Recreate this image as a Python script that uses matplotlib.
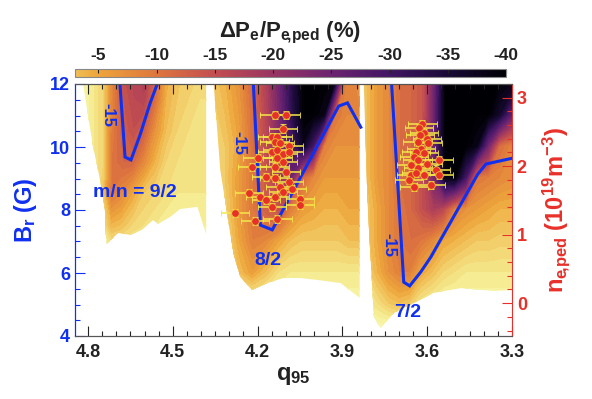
import numpy as np
import matplotlib
matplotlib.use('Agg')
import matplotlib.pyplot as plt
from matplotlib.colors import LinearSegmentedColormap, Normalize
from matplotlib.patches import Polygon
from matplotlib.ticker import MultipleLocator, FormatStrFormatter
import matplotlib.cm as cm

plt.rcParams['font.family'] = ['Liberation Sans', 'DejaVu Sans']
plt.rcParams['font.weight'] = 'bold'
plt.rcParams['axes.labelweight'] = 'bold'
plt.rcParams['axes.unicode_minus'] = False
plt.rcParams['mathtext.fontset'] = 'custom'
plt.rcParams['mathtext.rm'] = 'Liberation Sans:bold'
plt.rcParams['mathtext.it'] = 'Liberation Sans:bold'
plt.rcParams['mathtext.bf'] = 'Liberation Sans:bold'

# ---------------- colour scale anchors ----------------
cmap_vals = [-40, -35, -30, -25, -20, -15, -10, -5, -3, 0, 2, 5]
cmap_cols = ['#000004', '#190a37', '#421664', '#6c2370', '#983462', '#c34e50',
             '#de763e', '#eea53c', '#f0be55', '#f3de7d', '#f6f09b', '#fafab9']
cbar_ticks = [-5, -10, -15, -20, -25, -30, -35, -40]

# ---------------- region m/n = 9/2 ----------------
qA = [4.86, 4.80, 4.75, 4.72, 4.68, 4.64, 4.60, 4.56, 4.52, 4.48, 4.44, 4.40, 4.36]
brA = [6.5, 7.5, 8.5, 9.5, 10.5, 11.5, 12.5]
dpA = [
    [4, 4, 3, 3, 3, 3, 3, 3, 3, 3, 3, 3, 3],
    [4, 3, 0, -4, -3, -1, 0, 1, 2, 2, 2, 2, 2],
    [4, 2, -2, -10, -8, -5, -2, -1, 0, 1, 1, 1, 1],
    [4, 2, -1, -10, -12, -12, -8, -4, -1, 0, 1, 1, 1],
    [4, 2, -1, -9, -13, -15, -13, -7, -3, -1, 0, 0.5, 0.5],
    [4, 2, -1, -8, -14, -16, -17, -11, -4, -2, -1, 0, 0],
    [4, 2, -1, -8, -15, -17, -19, -13, -5, -2.5, -1.5, -1, -1],
]
edgeA_q = [4.821, 4.782, 4.757, 4.740, 4.738, 4.733, 4.694, 4.651, 4.609, 4.570,
           4.552, 4.509, 4.474, 4.413, 4.382, 4.382]
edgeA_br = [12.2, 10.0, 8.95, 8.0, 7.27, 6.92, 7.27, 7.21, 7.37, 7.68,
            7.56, 7.78, 8.03, 8.10, 7.24, 12.2]
lineA_q = [4.687, 4.669, 4.648, 4.616, 4.580, 4.555]
lineA_br = [12.0, 9.68, 9.59, 10.38, 11.4, 12.0]

# ---------------- region 8/2 ----------------
qB = [4.37, 4.32, 4.27, 4.22, 4.17, 4.12, 4.08, 4.04, 4.00, 3.96, 3.92, 3.88, 3.83]
brB = [5.0, 6.0, 7.0, 8.0, 9.0, 10.0, 11.0, 12.2]
dpB = [
    [3, 3, 3, 3, 3, 3, 3, 3, 3, 3, 3, 3, 3],
    [2, 1, -3, -6, -3, 0, 1, 1, 1, 1, 1, 1, 1],
    [1, 0, -5, -9, -8, -5, -3, -2, -2, -2, -2, -3, -3],
    [0, -1, -6, -10, -13, -15, -9, -6, -5, -4, -4, -5, -5],
    [0, -2, -6, -10, -14, -19, -25, -12, -8, -6, -6, -6, -6],
    [-1, -2, -5, -11, -16, -23, -30, -38, -30, -9, -7, -7, -7],
    [-1, -3, -6, -11, -17, -25, -33, -40, -40, -38, -10, -8, -8],
    [-2, -4, -7, -12, -18, -26, -34, -40, -40, -40, -40, -9, -7],
]
edgeB_q = [4.357, 4.332, 4.286, 4.261, 4.220, 4.166, 4.109, 4.048, 3.989, 3.906, 3.839, 3.839]
edgeB_br = [12.2, 9.27, 6.63, 5.87, 5.46, 5.68, 5.84, 5.84, 5.78, 5.68, 5.21, 12.2]
lineB_q = [4.215, 4.190, 4.148, 3.913, 3.882, 3.835]
lineB_br = [12.0, 7.52, 7.37, 11.3, 11.4, 10.63]

# ---------------- region 7/2 ----------------
qC = [3.83, 3.78, 3.74, 3.70, 3.66, 3.62, 3.58, 3.54, 3.50, 3.46, 3.42, 3.38, 3.34, 3.29]
brC = [4.2, 5.0, 6.0, 7.0, 8.0, 9.0, 10.0, 11.0, 12.2]
dpC = [
    [4, 4, 4, 4, 4, 4, 4, 4, 4, 4, 4, 4, 4, 4],
    [2, 0, -2, -3, -2, 1, 2, 3, 3, 3, 3, 3, 3, 3],
    [0, -4, -7, -9, -9, -5, -3, -1, 0, 1, 1, 1, 1, 1],
    [-1, -5, -8, -10, -11, -10, -8, -5, -4, -3, -2, -2, -1.5, -1.5],
    [-1, -5, -8, -10, -12, -15, -18, -16, -9, -7, -6, -5, -4, -4],
    [-2, -6, -8, -11, -12, -15, -24, -38, -40, -30, -10, -9, -8, -7],
    [-2, -6, -8, -11, -12, -15, -25, -40, -40, -40, -38, -24, -11, -8],
    [-2, -6, -8, -11, -12, -14, -25, -40, -40, -40, -40, -40, -36, -25],
    [-2, -6, -8, -11, -12, -14, -24, -40, -40, -40, -40, -40, -40, -40],
]
edgeC_q = [3.825, 3.811, 3.789, 3.765, 3.718, 3.577, 3.481, 3.364, 3.29, 3.29]
edgeC_br = [12.2, 8.22, 4.6, 4.25, 4.73, 5.37, 5.52, 5.43, 5.46, 12.2]
lineC_q = [3.726, 3.683, 3.662, 3.623, 3.587, 3.421, 3.392, 3.296]
lineC_br = [12.0, 5.71, 5.59, 6.03, 6.51, 9.14, 9.46, 9.65]

# ---------------- pedestal density measurements ----------------
q_pts_8 = [4.14, 4.10, 4.11, 4.15, 4.13, 4.14, 4.09, 4.12, 4.15, 4.13, 4.11, 4.09,
           4.13, 4.11, 4.14, 4.22, 4.20, 4.10, 4.17, 4.14, 4.09, 4.12, 4.08, 4.11,
           4.14, 4.23, 4.19, 4.17, 4.15, 4.05, 4.05, 4.13, 4.21, 4.28]
ne_pts_8 = [2.75, 2.75, 2.55, 2.43, 2.43, 2.36, 2.30, 2.34, 2.20, 2.24, 2.18, 2.20,
            2.12, 2.06, 1.99, 1.99, 2.12, 1.92, 1.84, 1.83, 1.77, 1.70, 1.67, 1.62,
            1.55, 1.61, 1.55, 1.51, 1.40, 1.52, 1.43, 1.23, 1.20, 1.32]
q_pts_7 = [3.617, 3.629, 3.611, 3.625, 3.601, 3.634, 3.597, 3.623, 3.640, 3.611,
           3.646, 3.634, 3.558, 3.599, 3.658, 3.632, 3.570, 3.658, 3.611, 3.640,
           3.558, 3.587, 3.646, 3.664]
ne_pts_7 = [2.62, 2.56, 2.49, 2.46, 2.39, 2.36, 2.34, 2.25, 2.21, 2.19, 2.14, 2.09,
            2.09, 2.03, 2.02, 1.97, 1.95, 1.87, 1.87, 1.90, 1.87, 1.73, 1.70, 1.80]
q_err = 0.05
ne_err = 0.06

BLUE = '#1030f0'
RED = '#e8302a'
DARK = '#222222'

vmin, vmax = -40, 5
norm = Normalize(vmin=vmin, vmax=vmax)
cmap = LinearSegmentedColormap.from_list(
    'dp', [((v - vmin) / (vmax - vmin), c) for v, c in zip(cmap_vals, cmap_cols)], N=512)

fig = plt.figure(figsize=(5.92, 3.99), dpi=100)
ax = fig.add_axes([75 / 592, 1 - 336 / 399, 437 / 592, 252 / 399])
levels = np.arange(-40, 5.5, 1.0)

for qg, bg, zg, eq, eb in [(qA, brA, dpA, edgeA_q, edgeA_br),
                           (qB, brB, dpB, edgeB_q, edgeB_br),
                           (qC, brC, dpC, edgeC_q, edgeC_br)]:
    cs = ax.contourf(qg, bg, np.array(zg, dtype=float), levels=levels, cmap=cmap,
                     norm=norm, extend='both')
    cs.set_edgecolor('face')
    cs.set_linewidth(0.6)
    poly = Polygon(np.column_stack([eq, eb]), closed=True, transform=ax.transData,
                   facecolor='none', edgecolor='none')
    cs.set_clip_path(poly)

for lq, lb in [(lineA_q, lineA_br), (lineB_q, lineB_br), (lineC_q, lineC_br)]:
    ax.plot(lq, lb, color=BLUE, lw=2.2, solid_joinstyle='miter', zorder=5)

ax.set_xlim(4.846, 3.3)
ax.set_ylim(4, 12)
ax.xaxis.set_major_locator(MultipleLocator(0.3))
ax.xaxis.set_minor_locator(MultipleLocator(0.05))
ax.xaxis.set_major_formatter(FormatStrFormatter('%.1f'))
ax.yaxis.set_major_locator(MultipleLocator(2))
ax.yaxis.set_minor_locator(MultipleLocator(0.5))
ax.tick_params(axis='x', which='both', direction='in', top=True, bottom=True,
               labelsize=13, colors=DARK, pad=6)
ax.tick_params(axis='x', which='major', length=7, width=0.8)
ax.tick_params(axis='x', which='minor', length=3.5, width=0.8)
ax.tick_params(axis='y', which='both', direction='in', colors=BLUE, labelsize=13, left=True, right=False)
ax.tick_params(axis='y', which='major', length=7, width=0.8)
ax.tick_params(axis='y', which='minor', length=3.5, width=0.8)
ax.spines['left'].set_color(BLUE)
ax.spines['right'].set_visible(False)
ax.spines['top'].set_color('#555555')
ax.spines['bottom'].set_color('#555555')
ax.set_xlabel(r'$q_{95}$', fontsize=17, color=DARK, labelpad=2)
ax.set_ylabel(r'$B_r$ (G)', fontsize=17, color=BLUE, labelpad=8)

txt_kw = dict(color=BLUE, ha='center', va='center', zorder=6, fontweight='bold')
ax.text(4.729, 11.02, '-15', rotation=-90, fontsize=12, **txt_kw)
ax.text(4.265, 10.13, '-15', rotation=-90, fontsize=12, **txt_kw)
ax.text(3.736, 6.89, '-15', rotation=-90, fontsize=12, **txt_kw)
ax.text(4.633, 8.54, 'm/n = 9/2', fontsize=14, **txt_kw)
ax.text(4.165, 6.41, '8/2', fontsize=14, **txt_kw)
ax.text(3.669, 4.76, '7/2', fontsize=14, **txt_kw)

ax2 = ax.twinx()
ax2.set_ylim(-0.48, 3.2)
for qq, nn in [(q_pts_8, ne_pts_8), (q_pts_7, ne_pts_7)]:
    ax2.errorbar(qq, nn, xerr=q_err, yerr=ne_err, fmt='o', color=RED, ms=5.5,
                 mec='#f0c030', mew=0.6, ecolor='#f4e84a', elinewidth=1.1,
                 capsize=2.5, capthick=1.1, zorder=4)
ax2.yaxis.set_major_locator(MultipleLocator(1))
ax2.yaxis.set_minor_locator(MultipleLocator(0.2))
ax2.tick_params(axis='y', which='both', direction='in', colors=RED, labelsize=13)
ax2.tick_params(axis='y', which='major', length=7, width=0.8)
ax2.tick_params(axis='y', which='minor', length=3.5, width=0.8)
ax2.spines['right'].set_color(RED)
ax2.spines['left'].set_color(BLUE)
ax2.spines['top'].set_color('#555555')
ax2.spines['bottom'].set_color('#555555')
ax2.set_ylabel(r'$n_{e\!,\!ped}$ ($10^{19}$m$^{-3}$)', fontsize=17, color=RED, labelpad=10)

for lbl in ax.get_xticklabels() + ax.get_yticklabels() + ax2.get_yticklabels():
    lbl.set_fontweight('bold')

cax = fig.add_axes([75 / 592, 1 - 77 / 399, 431 / 592, 8 / 399])
sm = cm.ScalarMappable(norm=norm, cmap=cmap)
cb = fig.colorbar(sm, cax=cax, orientation='horizontal',
                  boundaries=np.linspace(-40, -3, 300))
cb.ax.invert_xaxis()
cb.set_ticks(cbar_ticks)
cb.ax.xaxis.set_ticks_position('top')
cb.ax.xaxis.set_label_position('top')
cb.ax.tick_params(direction='in', length=3, width=0.8, labelsize=12.5, colors=DARK, pad=4)
for lbl in cb.ax.get_xticklabels():
    lbl.set_fontweight('bold')
cb.outline.set_edgecolor('#888888')
cb.outline.set_linewidth(0.8)
cb.set_label(r'$\Delta P_e/P_{e\!,\!ped}$ (%)', fontsize=16, color=DARK, labelpad=8)

fig.savefig('out.png', dpi=100)
